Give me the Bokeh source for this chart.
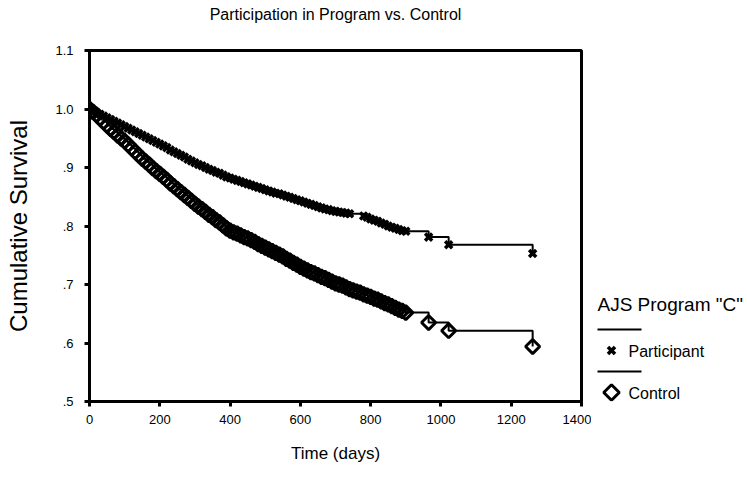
from bokeh.plotting import figure
from bokeh.models import FixedTicker, Range1d
from bokeh.layouts import row
from bokeh.core.properties import value
from bokeh.embed import file_html
from bokeh.resources import INLINE
import math

# ---- data ----
days_participant = [0, 10, 20, 30, 40, 50, 60, 70, 80, 90, 100,
                    110, 120, 130, 140, 150, 160, 170, 180, 190, 200,
                    210, 220, 230, 240, 250, 260, 270, 280, 290, 300,
                    310, 320, 330, 340, 350, 360, 370, 380, 390, 400,
                    410, 420, 430, 440, 450, 460, 470, 480, 490, 500,
                    510, 520, 530, 540, 550, 560, 570, 580, 590, 600,
                    610, 620, 630, 640, 650, 660, 670, 680, 690, 700,
                    710, 720, 730, 740,
                    780, 790, 800, 810, 820, 830, 840, 850, 860, 870, 880, 890, 900,
                    965, 1022, 1261]
surv_participant = [1.000, 0.997, 0.994, 0.991, 0.988, 0.985, 0.982, 0.979, 0.976, 0.973, 0.970,
                    0.967, 0.964, 0.961, 0.958, 0.955, 0.952, 0.949, 0.946, 0.943, 0.940,
                    0.937, 0.934, 0.930, 0.927, 0.924, 0.921, 0.918, 0.914, 0.911, 0.908,
                    0.905, 0.903, 0.900, 0.897, 0.895, 0.892, 0.890, 0.887, 0.884, 0.882,
                    0.880, 0.878, 0.876, 0.874, 0.872, 0.870, 0.868, 0.866, 0.864, 0.862,
                    0.860, 0.858, 0.856, 0.855, 0.853, 0.851, 0.849, 0.847, 0.845, 0.843,
                    0.841, 0.839, 0.837, 0.835, 0.833, 0.831, 0.829, 0.828, 0.826, 0.825,
                    0.824, 0.823, 0.822, 0.821,
                    0.817, 0.815, 0.812, 0.810, 0.808, 0.805, 0.803, 0.800, 0.798, 0.796,
                    0.794, 0.792, 0.791,
                    0.781, 0.768, 0.753]

days_control = [0, 10, 20, 30, 40, 50, 60, 70, 80, 90, 100,
                110, 120, 130, 140, 150, 160, 170, 180, 190, 200,
                210, 220, 230, 240, 250, 260, 270, 280, 290, 300,
                310, 320, 330, 340, 350, 360, 370, 380, 390, 400,
                410, 420, 430, 440, 450, 460, 470, 480, 490, 500,
                510, 520, 530, 540, 550, 560, 570, 580, 590, 600,
                610, 620, 630, 640, 650, 660, 670, 680, 690, 700,
                710, 720, 730, 740, 750, 760, 770, 780, 790, 800,
                810, 820, 830, 840, 850, 860, 870, 880, 890, 900,
                965, 1022, 1261]
surv_control = [1.000, 0.995, 0.990, 0.984, 0.978, 0.972, 0.966, 0.961, 0.955, 0.950, 0.945,
                0.939, 0.933, 0.927, 0.921, 0.915, 0.910, 0.905, 0.899, 0.894, 0.889,
                0.884, 0.879, 0.873, 0.868, 0.863, 0.858, 0.853, 0.848, 0.843, 0.838,
                0.833, 0.829, 0.824, 0.819, 0.815, 0.810, 0.806, 0.801, 0.796, 0.792,
                0.789, 0.787, 0.784, 0.781, 0.779, 0.776, 0.773, 0.769, 0.766, 0.763,
                0.760, 0.757, 0.754, 0.751, 0.748, 0.744, 0.741, 0.737, 0.734, 0.730,
                0.727, 0.724, 0.721, 0.719, 0.716, 0.713, 0.711, 0.708, 0.705, 0.702,
                0.700, 0.698, 0.695, 0.692, 0.690, 0.688, 0.686, 0.683, 0.681, 0.679,
                0.676, 0.674, 0.671, 0.668, 0.666, 0.663, 0.660, 0.657, 0.655, 0.652,
                0.635, 0.621, 0.594]

x_ticks = [0, 200, 400, 600, 800, 1000, 1200, 1400]
x_tick_labels = ["0", "200", "400", "600", "800", "1000", "1200", "1400"]
y_ticks = [0.5, 0.6, 0.7, 0.8, 0.9, 1.0, 1.1]
y_tick_labels = [".5", ".6", ".7", ".8", ".9", "1.0", "1.1"]

title_text = "Participation in Program vs. Control"
legend_title = 'AJS Program "C"'
series_names = ["Participant", "Control"]

FONT = "Liberation Sans"
MAIN_W = 591
FRAME_TOP, FRAME_BOTTOM = 50, 401
LEG_W = 154

p = figure(frame_width=492, frame_height=351,
           min_border_left=89, min_border_right=10, min_border_top=50, min_border_bottom=75,
           x_range=Range1d(0, 1400), y_range=Range1d(0.5, 1.1),
           output_backend="svg", toolbar_location=None)
p.grid.visible = False
p.outline_line_color = "black"
p.outline_line_width = 3
p.background_fill_color = "white"
p.border_fill_color = "white"

p.title.text = title_text
p.title.align = "center"
p.title.vertical_align = "top"
p.title.text_font = FONT
p.title.text_font_size = "16px"
p.title.text_font_style = "normal"
p.title.text_color = "black"
p.title.standoff = 0
p.title.padding = dict(left=0, right=0, top=0, bottom=26)

for ax in (p.xaxis[0], p.yaxis[0]):
    ax.axis_line_width = 3
    ax.axis_line_color = "black"
    ax.major_tick_line_width = 3
    ax.major_tick_line_color = "black"
    ax.major_tick_out = 5
    ax.major_tick_in = 0
    ax.minor_tick_line_color = None
    ax.major_label_text_font = FONT
    ax.major_label_text_font_size = "13px"
    ax.major_label_text_color = "black"
    ax.axis_label_text_font = FONT
    ax.axis_label_text_font_style = "normal"
    ax.axis_label_text_color = "black"

p.xaxis.ticker = FixedTicker(ticks=x_ticks)
p.xaxis.major_label_overrides = {t: l for t, l in zip(x_ticks, x_tick_labels)}
p.yaxis.ticker = FixedTicker(ticks=y_ticks)
p.yaxis.major_label_overrides = {t: l for t, l in zip(y_ticks, y_tick_labels)}
p.xaxis.major_label_standoff = 8
p.yaxis.major_label_standoff = 11
p.xaxis.axis_label = "Time (days)"
p.yaxis.axis_label = "Cumulative Survival"
p.xaxis.axis_label_text_font_size = "17px"
p.yaxis.axis_label_text_font_size = "24px"
p.xaxis.axis_label_standoff = 17
p.yaxis.axis_label_standoff = 20

# survival step lines
p.step(days_participant, surv_participant, mode="after", line_color="black", line_width=2)
p.step(days_control, surv_control, mode="after", line_color="black", line_width=2)

# markers
p.scatter(days_participant, surv_participant, marker="x", size=10, line_width=3.5,
          line_color="black")
p.scatter(days_control, surv_control, marker="square", angle=math.pi / 4, size=10,
          line_width=3, line_color="black", fill_alpha=0)

# ---- legend panel to the right (page pixel coordinates, frame aligned with main frame) ----
leg = figure(frame_width=LEG_W, frame_height=351, min_border_left=0, min_border_right=0,
             min_border_top=50, min_border_bottom=75,
             x_range=Range1d(MAIN_W, MAIN_W + LEG_W), y_range=Range1d(FRAME_BOTTOM, FRAME_TOP),
             output_backend="svg", toolbar_location=None,
             x_axis_location=None, y_axis_location=None)
leg.grid.visible = False
leg.outline_line_color = None
leg.background_fill_color = "white"
leg.border_fill_color = "white"

leg.text(x=[597], y=[304], text=[legend_title], text_font=value(FONT),
         text_font_size="19px", text_baseline="middle", text_align="left", text_color="black")
leg.line(x=[597, 641], y=[329, 329], line_color="black", line_width=2)
leg.line(x=[597, 641], y=[371, 371], line_color="black", line_width=2)
leg.scatter(x=[611], y=[350], marker="x", size=10, line_width=3.5, line_color="black")
leg.text(x=[628], y=[351], text=[series_names[0]], text_font=value(FONT),
         text_font_size="16px", text_baseline="middle", text_align="left", text_color="black")
leg.scatter(x=[611], y=[392], marker="square", angle=math.pi / 4, size=11, line_width=3,
            line_color="black", fill_alpha=0)
leg.text(x=[628], y=[393], text=[series_names[1]], text_font=value(FONT),
         text_font_size="16px", text_baseline="middle", text_align="left", text_color="black")

layout = row(p, leg, spacing=0)
open("out.html", "w").write(file_html(layout, INLINE))
